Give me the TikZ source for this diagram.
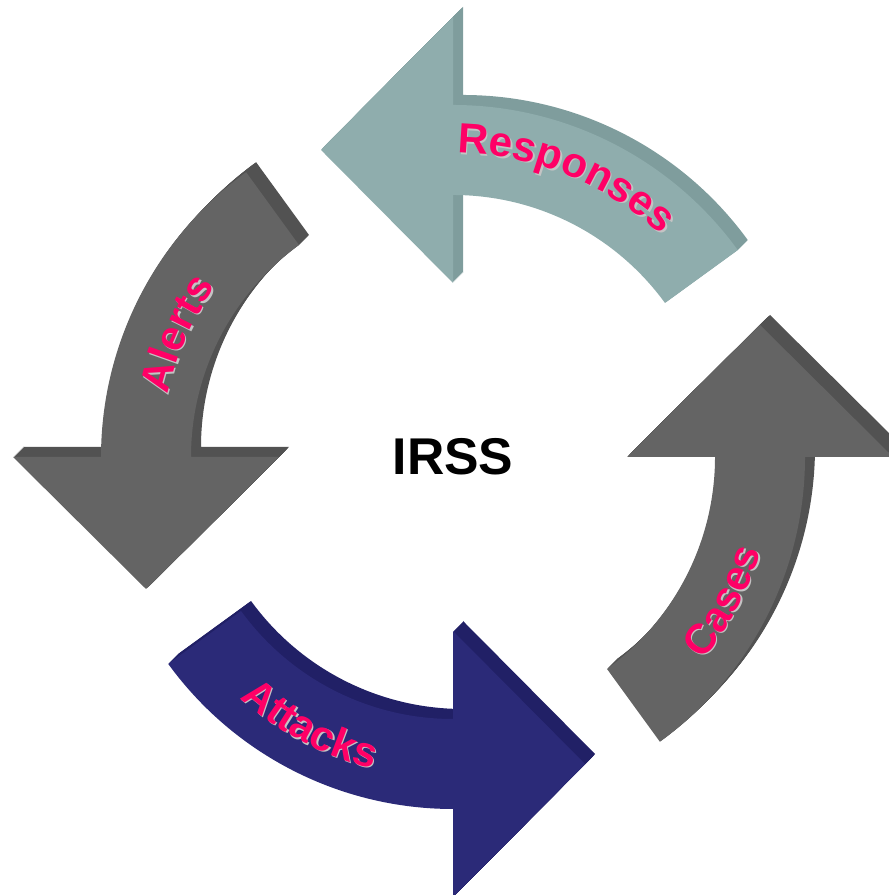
\documentclass[tikz,border=0pt]{standalone}
\usepackage{fontspec}
\setmainfont{Liberation Sans}
\usepackage{xcolor}
\usepackage{tikz}
\usetikzlibrary{decorations.text}

\definecolor{respface}{HTML}{8FADAD}
\definecolor{respside}{HTML}{7F9D9D}
\definecolor{greyface}{HTML}{646464}
\definecolor{greyside}{HTML}{525252}
\definecolor{navyface}{HTML}{2B2A78}
\definecolor{navyside}{HTML}{212066}
\definecolor{labelpink}{HTML}{FF0066}
\definecolor{labelshadow}{HTML}{C4C4C4}

\newcommand{\cyclearrow}{(-54:262) arc[start angle=-54,end angle=0,radius=262] -- (174,0) -- (307,132) -- (440,0) -- (352,0) arc[start angle=0,end angle=-54,radius=352] -- cycle}
\newcommand{\pinkfont}{\fontsize{12}{14}\selectfont\bfseries\color{labelpink}}
\newcommand{\shadowfont}{\fontsize{12}{14}\selectfont\bfseries\color{labelshadow}}

\tikzset{
	cycletext/.style={decorate,decoration={text along path,text align=center,text={#1}}}
}

\begin{document}
\begin{tikzpicture}[x=0.01cm,y=0.01cm]
	\useasboundingbox (0,0) rectangle (889,895);
	\foreach \rot/\face/\side in {0/greyface/greyside,90/respface/respside,180/greyface/greyside,270/navyface/navyside}{
		\foreach \d in {1,...,10}
			\fill[\side,shift={(453+\d,438+\d)},rotate=\rot] \cyclearrow;
		\fill[\face,shift={(453,438)},rotate=\rot] \cyclearrow;
	}
	\begin{scope}[shift={(454.5,436.5)}]
		\path[cycletext={|\shadowfont|Responses}] (108:304) arc[start angle=108,end angle=28,radius=304];
		\path[cycletext={|\shadowfont|Alerts}] (196:292) arc[start angle=196,end angle=116,radius=292];
		\path[cycletext={|\shadowfont|Attacks}] (202:322) arc[start angle=202,end angle=282,radius=322];
		\path[cycletext={|\shadowfont|Cases}] (-68:322) arc[start angle=-68,end angle=12,radius=322];
	\end{scope}
	\begin{scope}[shift={(453,438)}]
		\path[cycletext={|\pinkfont|Responses}] (108:304) arc[start angle=108,end angle=28,radius=304];
		\path[cycletext={|\pinkfont|Alerts}] (196:292) arc[start angle=196,end angle=116,radius=292];
		\path[cycletext={|\pinkfont|Attacks}] (202:322) arc[start angle=202,end angle=282,radius=322];
		\path[cycletext={|\pinkfont|Cases}] (-68:322) arc[start angle=-68,end angle=12,radius=322];
		\node[font=\fontsize{14.7}{17}\selectfont\bfseries] (irss) at (0,0) {IRSS};
	\end{scope}
\end{tikzpicture}
\end{document}
